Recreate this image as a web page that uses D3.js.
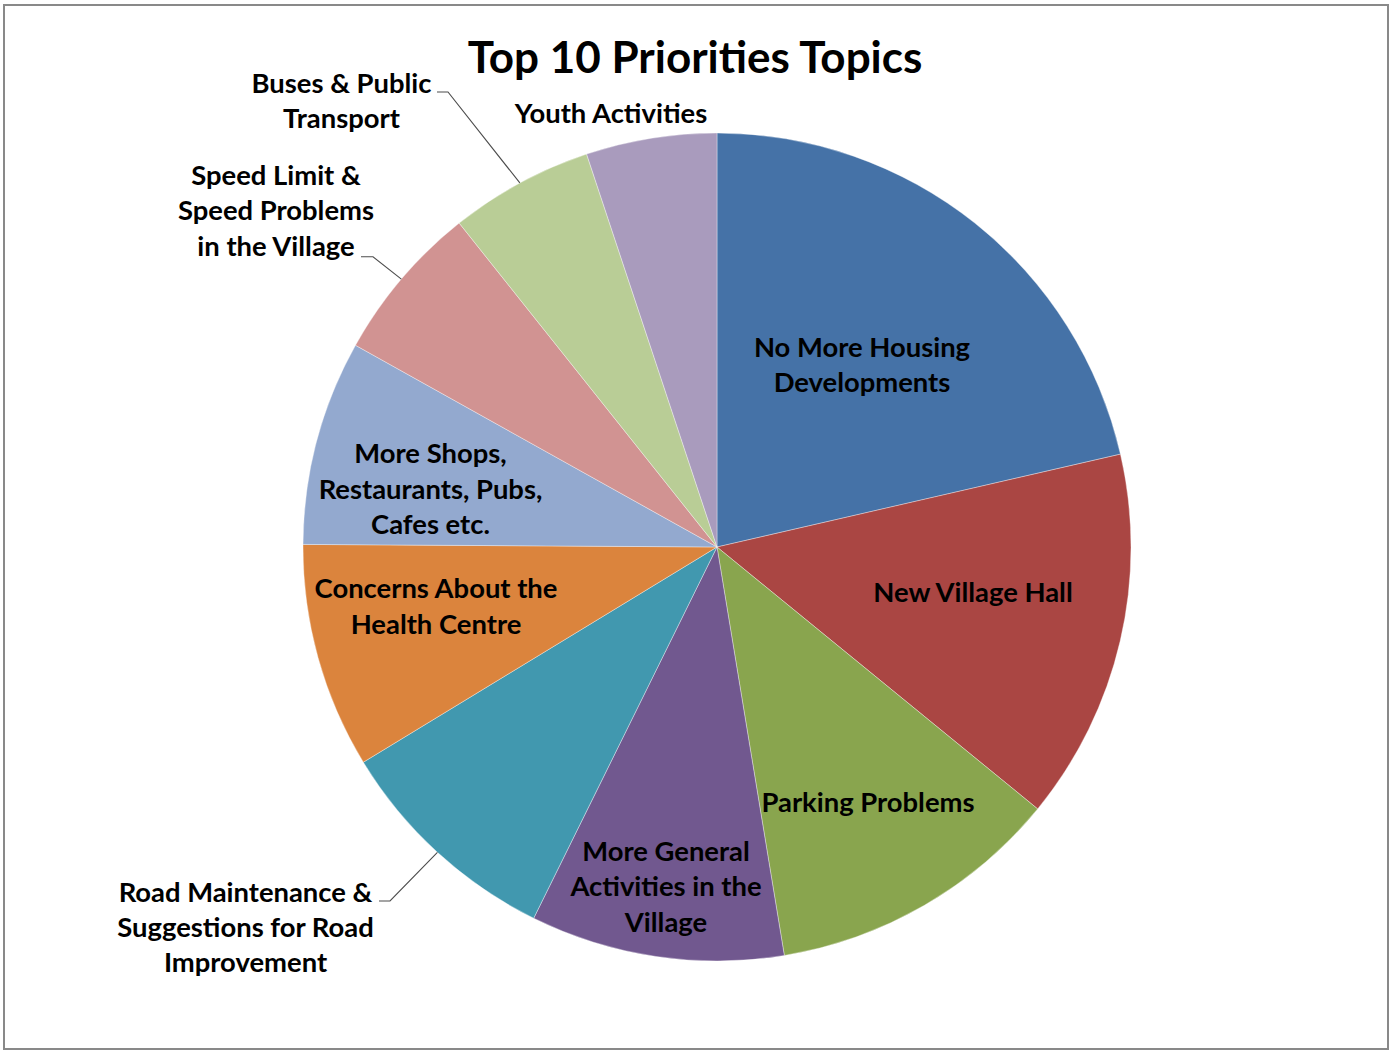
<!DOCTYPE html>
<html>
<head>
<meta charset="utf-8">
<script src="https://cdn.jsdelivr.net/npm/d3@7"></script>
<style>
  html, body { margin: 0; padding: 0; background: #fff; }
  svg { display: block; }
  text { font-family: Lato, "Open Sans", sans-serif; font-weight: bold; fill: #000; }
</style>
</head>
<body>
<svg id="chart" width="1395" height="1050"></svg>
<script>
const title = "Top 10 Priorities Topics";
const categories = [
  "No More Housing Developments",
  "New Village Hall",
  "Parking Problems",
  "More General Activities in the Village",
  "Road Maintenance & Suggestions for Road Improvement",
  "Concerns About the Health Centre",
  "More Shops, Restaurants, Pubs, Cafes etc.",
  "Speed Limit & Speed Problems in the Village",
  "Buses & Public Transport",
  "Youth Activities"
];
const values = [21.4, 14.5, 11.5, 9.9, 9.0, 8.8, 8.0, 6.2, 5.6, 5.1];
const colors = ["#4572A7", "#AA4643", "#89A54E", "#71588F", "#4198AF",
                "#DB843D", "#93A9CF", "#D19392", "#B9CD96", "#A99BBD"];
const labelLines = [
  ["No More Housing", "Developments"],
  ["New Village Hall"],
  ["Parking Problems"],
  ["More General", "Activities in the", "Village"],
  ["Road Maintenance &", "Suggestions for Road", "Improvement"],
  ["Concerns About the", "Health Centre"],
  ["More Shops,", "Restaurants, Pubs,", "Cafes etc."],
  ["Speed Limit &", "Speed Problems", "in the Village"],
  ["Buses & Public", "Transport"],
  ["Youth Activities"]
];
// label anchor: [centre x, first baseline y]
const labelPos = [
  [862, 357], [973, 602], [868, 812], [666, 861], [245.5, 901.5],
  [436, 598.3], [430.5, 463.3], [276, 185], [341.5, 93], [611, 122.5]
];
const leaders = {
  4: [[379, 901], [390, 901]],
  7: [[361, 256.7], [373, 256.7]],
  8: [[437, 92], [448, 92]]
};

const svg = d3.select("#chart");
const cx = 717, cy = 547, R = 414;
const lineH = 35.3;
const fontSize = 27.4;

svg.append("rect")
  .attr("x", 4).attr("y", 5).attr("width", 1384).attr("height", 1044)
  .attr("fill", "#fff").attr("stroke", "#898989").attr("stroke-width", 2);

const pie = d3.pie().sort(null).value(d => d).startAngle(0).endAngle(2 * Math.PI);
const arcs = pie(values);
const arc = d3.arc().innerRadius(0).outerRadius(R);

const g = svg.append("g").attr("transform", `translate(${cx},${cy})`);
g.selectAll("path.slice")
  .data(arcs)
  .join("path")
  .attr("class", "slice")
  .attr("d", arc)
  .attr("fill", (d, i) => colors[i])
  .attr("stroke", "rgba(255,255,255,0.45)")
  .attr("stroke-width", 0.8);

Object.keys(leaders).forEach(k => {
  const i = +k;
  const a = arcs[i];
  const mid = (a.startAngle + a.endAngle) / 2;
  const edge = [cx + Math.sin(mid) * R, cy - Math.cos(mid) * R];
  const pts = leaders[k].concat([edge]);
  svg.append("path")
    .attr("d", d3.line()(pts))
    .attr("fill", "none")
    .attr("stroke", "#4d4d4d")
    .attr("stroke-width", 1.1);
});

labelLines.forEach((lines, i) => {
  const t = svg.append("text")
    .attr("text-anchor", "middle")
    .attr("font-size", fontSize);
  lines.forEach((ln, j) => {
    t.append("tspan")
      .attr("x", labelPos[i][0])
      .attr("y", labelPos[i][1] + j * lineH)
      .text(ln);
  });
});

svg.append("text")
  .attr("x", 695).attr("y", 73)
  .attr("text-anchor", "middle")
  .attr("font-size", 44)
  .text(title);
</script>
</body>
</html>
